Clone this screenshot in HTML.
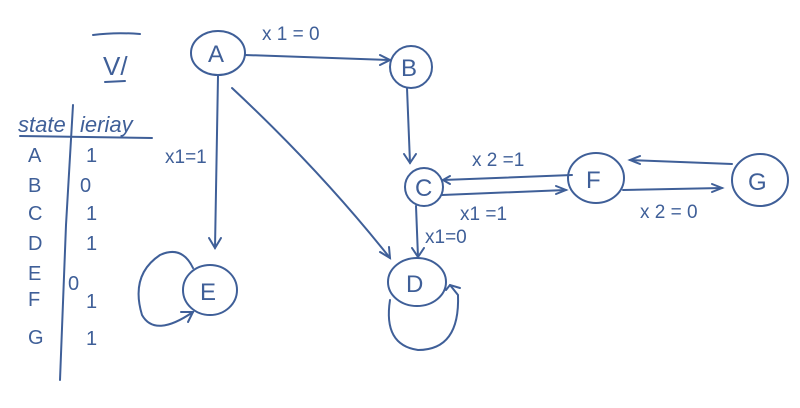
<!DOCTYPE html>
<html><head><meta charset="utf-8"><style>
html,body{margin:0;padding:0;background:#fff;}
svg{display:block}
text{font-family:"Liberation Sans",sans-serif;fill:#3f5f98;}
</style></head><body>
<svg width="800" height="408" viewBox="0 0 800 408" xmlns="http://www.w3.org/2000/svg">
<g stroke="#3f5f98" stroke-width="2" fill="none" stroke-linecap="round">
<!-- header -->
<path d="M93 35 Q115 32 140 34"/>
<path d="M105 82 L125 81"/>
<!-- table -->
<path d="M20 136 L152 138"/>
<path d="M73 105 L66 225 L60 380"/>
<!-- nodes -->
<ellipse cx="218" cy="53" rx="27" ry="22"/>
<ellipse cx="411" cy="67" rx="21" ry="21"/>
<ellipse cx="424" cy="187" rx="19" ry="19"/>
<ellipse cx="596" cy="178" rx="28" ry="25"/>
<ellipse cx="760" cy="180" rx="28" ry="26"/>
<ellipse cx="417" cy="282" rx="29" ry="24"/>
<ellipse cx="210" cy="290" rx="27" ry="25"/>
<!-- edges -->
<path d="M245 55 L390 60"/><path d="M380 55 L390 60 L380 65"/>
<path d="M407 88 L410 163"/><path d="M404 154 L410 163 L416 154"/>
<path d="M218 76 L215 248"/><path d="M209 238 L215 248 L221 238"/>
<path d="M232 88 Q320 170 390 258"/><path d="M380 252 L390 258 L389 247"/>
<path d="M416 206 L418 257"/><path d="M412 248 L418 257 L424 248"/>
<path d="M443 180 L572 175"/><path d="M450 176 L443 180 L450 184"/>
<path d="M442 195 L566 190"/><path d="M556 186 L566 190 L556 194"/>
<path d="M732 164 L630 160"/><path d="M640 156 L630 160 L640 164"/>
<path d="M623 190 L722 188"/><path d="M712 184 L722 188 L712 192"/>
<path d="M193 268 Q182 245 160 255 Q130 275 142 315 Q155 338 193 312"/><path d="M181 312 L193 312 L188 322"/>
<path d="M390 300 Q383 345 418 350 Q460 350 458 295 L450 285"/><path d="M446 290 L450 285 L460 288"/>
</g>
<text x="103" y="75" font-size="26">V/</text>
<text x="18" y="132" font-size="22" font-style="italic">state</text>
<text x="80" y="132" font-size="22" font-style="italic">ieriay</text>
<g font-size="20">
<text x="28" y="162">A</text><text x="28" y="192">B</text><text x="28" y="220">C</text>
<text x="28" y="250">D</text><text x="28" y="280">E</text><text x="28" y="306">F</text><text x="28" y="344">G</text>
<text x="86" y="162">1</text><text x="80" y="192">0</text><text x="86" y="220">1</text>
<text x="86" y="250">1</text><text x="68" y="290">0</text><text x="86" y="308">1</text><text x="86" y="345">1</text>
</g>
<g font-size="24">
<text x="208" y="62">A</text><text x="401" y="76">B</text><text x="415" y="196">C</text>
<text x="586" y="188">F</text><text x="748" y="190">G</text><text x="406" y="292">D</text><text x="200" y="300">E</text>
</g>
<g font-size="19">
<text x="262" y="40">x 1 = 0</text>
<text x="165" y="163">x1=1</text>
<text x="472" y="166">x 2 =1</text>
<text x="460" y="220">x1 =1</text>
<text x="425" y="243">x1=0</text>
<text x="640" y="218">x 2 = 0</text>
</g>
</svg>
</body></html>
